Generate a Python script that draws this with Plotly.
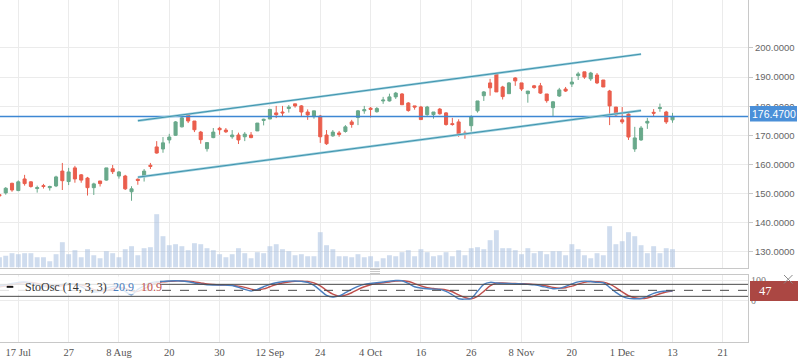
import plotly.graph_objects as go

# ---------------- data ----------------
idx = list(range(-3, 105))
opens = [149.6,150.2,153.5,151.0,155.0,154.0,151.7,152.7,152.0,152.6,157.7,154.1,158.8,156.4,155.3,152.0,154.3,154.6,158.5,156.0,
         156.0,150.6,154.9,155.8,159.7,166.0,165.3,168.4,170.0,172.9,177.0,174.9,171.1,165.4,169.2,172.4,171.8,169.5,170.1,169.5,
         170.1,171.5,175.1,175.6,177.7,178.0,179.2,180.8,180.1,178.0,176.4,176.6,170.1,169.8,170.8,171.3,174.6,176.1,178.4,179.3,
         178.1,181.8,181.8,183.2,184.2,181.1,180.1,179.7,177.1,177.1,179.0,177.7,174.0,174.6,170.8,173.3,178.4,183.6,188.0,191.1,
         186.6,184.3,189.7,188.0,184.3,187.0,187.0,184.2,179.5,183.5,185.9,187.6,190.5,191.8,189.4,190.7,189.0,185.2,179.7,175.3,
         177.3,165.3,168.4,174.2,177.9,179.2,178.0,175.3]
highs = [150.1,152.2,153.7,154.5,156.4,154.2,152.7,153.3,152.7,156.1,160.5,158.8,159.5,156.7,155.7,153.7,154.3,158.8,159.8,157.7,
         156.4,152.5,155.2,158.4,160.5,168.0,169.4,170.5,174.9,176.3,177.2,174.9,171.5,167.5,172.5,172.9,172.5,171.8,170.9,171.1,
         171.1,174.2,175.7,179.0,180.1,180.1,180.4,180.8,180.4,178.9,178.4,177.0,171.8,171.8,171.5,173.5,175.3,178.7,180.1,179.7,
         179.7,183.2,184.3,184.9,184.5,181.4,180.1,180.1,180.1,178.0,179.4,178.0,176.0,175.5,171.6,176.9,181.8,185.2,189.4,191.5,
         187.0,188.3,190.0,188.0,185.2,187.3,188.0,184.2,181.8,186.3,186.6,190.0,191.8,191.8,191.8,191.4,189.0,185.6,179.7,179.7,
         177.7,172.9,173.2,176.0,179.0,180.9,178.4,177.7]
lows = [148.0,149.6,150.6,150.8,152.7,152.0,150.3,151.7,151.0,152.2,151.2,152.9,153.7,153.7,149.3,149.5,152.4,154.4,156.7,155.1,
        151.2,147.5,153.0,154.1,158.4,163.7,164.0,167.2,169.8,172.7,174.2,171.1,167.1,164.4,169.0,170.2,170.8,168.8,167.0,168.0,
        169.0,171.5,173.4,175.6,175.9,176.5,177.8,179.5,176.6,175.3,175.7,167.4,166.7,169.5,169.5,170.9,172.6,173.5,177.4,176.1,
        177.8,180.8,181.6,182.5,180.5,178.1,178.8,175.4,176.7,175.7,177.1,173.3,173.3,169.5,168.8,171.3,177.8,181.8,183.6,184.9,
        182.3,184.3,187.0,185.2,181.2,186.0,184.2,181.2,176.6,183.2,184.9,186.6,189.0,189.4,188.7,187.6,186.6,173.5,176.6,173.9,
        168.4,164.3,168.1,172.2,176.5,178.1,173.9,174.3]
closes = [149.2,151.8,151.2,154.0,153.4,152.4,152.0,152.4,152.4,155.7,154.4,157.4,155.0,154.6,152.0,153.3,153.4,158.8,157.5,157.4,
          151.6,151.6,154.5,157.7,159.3,163.9,167.4,169.4,174.6,176.0,174.9,171.9,168.5,167.5,171.1,171.9,171.2,170.1,168.4,170.4,
          169.2,174.2,175.5,178.9,177.1,177.7,179.7,180.1,178.0,177.0,178.4,169.5,167.1,171.1,170.3,172.9,173.7,178.4,178.8,178.9,
          179.2,182.1,183.2,184.5,180.5,178.5,179.7,175.4,179.7,178.0,177.4,173.7,173.7,170.5,170.3,176.3,181.8,184.9,186.3,184.9,
          183.3,188.0,188.7,185.9,185.2,186.4,184.5,181.9,181.5,185.6,185.2,188.3,191.1,190.0,191.4,188.0,186.6,180.1,177.0,174.6,
          169.4,169.1,172.5,174.8,177.6,179.5,174.6,176.47]
volumes = [10.3,11.7,14.3,13.3,14.3,14.3,10.3,10.3,6.3,13.3,25.3,13.3,17.3,10.3,18.3,12.3,9.3,16.3,14.3,10.3,
           18.3,21.3,12.3,19.3,20.3,53.3,31.3,22.3,23.3,21.3,17.3,24.3,23.3,19.3,17.3,13.3,10.3,13.3,19.3,14.3,
           9.3,15.3,14.3,21.3,23.3,18.3,16.3,12.3,13.3,11.3,11.3,35.3,22.3,18.3,11.3,11.3,10.3,13.3,10.3,11.3,
           6.3,9.3,12.3,11.3,15.3,17.3,11.3,18.3,15.3,11.3,12.3,15.3,11.3,17.3,12.3,19.3,20.3,18.3,27.3,37.3,
           19.3,19.3,17.3,13.3,19.3,14.3,16.3,13.3,16.3,16.3,12.3,23.3,18.3,12.3,9.3,14.3,12.3,41.3,23.3,26.3,
           35.3,31.3,22.3,14.3,21.3,14.3,19.3,18.3]
sto_k = [72,78,85,90,92,86,76,70,66,74,80,84,80,68,52,42,45,60,70,66,
         45,28,55,72,88,93,95,97,98,97,93,87,81,78,77,77,76,74,65,55,
         47,55,68,80,88,93,96,97,95,90,75,50,25,17,22,38,55,70,80,85,
         88,92,96,99,98,85,68,62,58,56,55,45,28,8,6,10,45,80,90,87,
         85,84,83,82,80,78,72,65,58,60,70,82,92,96,94,90,88,65,40,20,
         10,8,9,20,35,43,47,47]
sto_d = [68,72,78,85,89,89,85,77,71,70,73,79,81,77,67,54,46,49,58,65,
         60,46,45,58,75,88,93,95,97,97,96,92,87,82,79,77,76,75,71,65,
         56,52,57,68,79,87,92,95,96,94,87,72,50,31,21,26,38,54,68,78,
         84,88,92,96,98,94,84,72,63,59,56,52,43,27,14,8,20,45,72,86,
         87,85,84,83,82,80,77,72,65,61,63,71,81,90,94,93,91,81,64,42,
         23,13,9,12,21,33,42,46]
tick_vals = [0, 8, 16, 24, 32, 40, 48, 56, 64, 72, 80, 88, 96, 104, 112]
tick_text = ["17 Jul", "27", "8 Aug", "20", "30", "12 Sep", "24", "4 Oct",
             "16", "26", "8 Nov", "20", "1 Dec", "13", "21"]
price_ticks = [130, 140, 150, 160, 170, 180, 190, 200]
last_price = 176.47
channel_upper = [(19.0, 175.0), (99.0, 197.9)]
channel_lower = [(19.0, 155.6), (99.0, 178.5)]
sto_label = "StoOsc (14, 3, 3)"
sto_k_text, sto_d_text, sto_last = "20.9", "10.9", "47"

# ---------------- geometry helpers ----------------
W_PLOT, H_PLOT = 748.0, 342.0
def px(x):
    return x / W_PLOT
def py(y):
    return (H_PLOT - y) / H_PLOT

GREEN = "#69a98b"
RED = "#ea5e4d"
BLUE_K = "#4a7ebf"
RED_D = "#c0504d"
SERIF = "Liberation Serif"
SANS = "Liberation Sans"

fig = go.Figure()

fig.add_trace(go.Bar(
    x=idx, y=volumes, xaxis="x", yaxis="y2", width=0.78,
    marker=dict(color="rgba(168,192,224,0.55)", line=dict(width=0)),
    hoverinfo="skip", showlegend=False))

fig.add_trace(go.Candlestick(
    x=idx, open=opens, high=highs, low=lows, close=closes,
    xaxis="x", yaxis="y",
    increasing=dict(line=dict(color=GREEN, width=1), fillcolor=GREEN),
    decreasing=dict(line=dict(color=RED, width=1), fillcolor=RED),
    whiskerwidth=0, hoverinfo="skip", showlegend=False))

fig.add_trace(go.Scatter(
    x=idx, y=sto_d, xaxis="x2", yaxis="y3", mode="lines",
    line=dict(color=RED_D, width=1.4, shape="spline"), hoverinfo="skip", showlegend=False))
fig.add_trace(go.Scatter(
    x=idx, y=sto_k, xaxis="x2", yaxis="y3", mode="lines",
    line=dict(color=BLUE_K, width=1.4, shape="spline"), hoverinfo="skip", showlegend=False))

xr = [-2.91, 116.0]
main_bottom = py(267.5)
sto_top = py(275)

shapes = []
shapes.append(dict(type="line", xref="x domain", yref="y", x0=0, x1=1, y0=last_price, y1=last_price,
                   line=dict(color="#3d87d3", width=1.5), layer="above"))
for (a, b) in (channel_upper, channel_lower):
    shapes.append(dict(type="line", xref="x", yref="y", x0=a[0], y0=a[1], x1=b[0], y1=b[1],
                       line=dict(color="#9ccfdd", width=2.4), layer="above"))
    shapes.append(dict(type="line", xref="x", yref="y", x0=a[0], y0=a[1], x1=b[0], y1=b[1],
                       line=dict(color="#3f93ad", width=1), layer="above"))
for lv, dash in ((80, "solid"), (20, "solid"), (50, "dash")):
    shapes.append(dict(type="line", xref="x2 domain", yref="y3", x0=0, x1=1, y0=lv, y1=lv,
                       line=dict(color="#4a4a4a", width=1, dash=dash), layer="above"))
shapes.append(dict(type="rect", xref="paper", yref="paper", x0=0, x1=px(160), y0=py(294.5), y1=py(276.5),
                   fillcolor="rgba(255,255,255,0.82)", line=dict(width=0), layer="above"))
shapes.append(dict(type="rect", xref="paper", yref="paper", x0=px(6.7), x1=px(13.3), y0=py(287.8), y1=py(285.9),
                   fillcolor="#111", line=dict(width=0), layer="above"))
for yy in (269.5, 271.5, 273.5):
    shapes.append(dict(type="line", xref="paper", yref="paper", x0=px(370), x1=px(380), y0=py(yy), y1=py(yy),
                       line=dict(color="#c9c9c9", width=1), layer="above"))
shapes.append(dict(type="rect", xref="paper", yref="paper", x0=px(750), x1=px(797), y0=py(121.5), y1=py(106),
                   fillcolor="#4a8fd8", line=dict(width=0), layer="above"))
shapes.append(dict(type="rect", xref="paper", yref="paper", x0=px(750), x1=px(798.5), y0=py(301), y1=py(281),
                   fillcolor="#ab4743", line=dict(width=0), layer="above"))
shapes.append(dict(type="line", xref="paper", yref="paper", x0=px(784), x1=px(792.5), y0=py(275), y1=py(283.5),
                   line=dict(color="#8a8a8a", width=1), layer="above"))
shapes.append(dict(type="line", xref="paper", yref="paper", x0=px(784), x1=px(792.5), y0=py(283.5), y1=py(275),
                   line=dict(color="#8a8a8a", width=1), layer="above"))

annotations = [
    dict(xref="paper", yref="paper", x=px(773.5), y=py(113.8), text="176.4700", showarrow=False,
         xanchor="center", yanchor="middle", font=dict(family=SANS, size=10.5, color="white")),
    dict(xref="paper", yref="paper", x=px(756.5), y=py(291), text=sto_last, showarrow=False,
         xanchor="left", yanchor="middle", font=dict(family=SERIF, size=12.5, color="white")),
    dict(xref="paper", yref="paper", x=px(22.5), y=py(287), text=sto_label, showarrow=False,
         xanchor="left", yanchor="middle", font=dict(family=SERIF, size=12, color="#333")),
    dict(xref="paper", yref="paper", x=px(111), y=py(287), text=sto_k_text, showarrow=False,
         xanchor="left", yanchor="middle", font=dict(family=SERIF, size=12, color=BLUE_K)),
    dict(xref="paper", yref="paper", x=px(138.5), y=py(287), text=sto_d_text, showarrow=False,
         xanchor="left", yanchor="middle", font=dict(family=SERIF, size=12, color=RED_D)),
]

grid = "#ebebeb"
fig.update_layout(
    template="none",
    width=798, height=363,
    margin=dict(l=0, r=50, t=0, b=21, pad=0),
    paper_bgcolor="white", plot_bgcolor="white",
    showlegend=False, hovermode=False,
    xaxis=dict(domain=[0, 1], anchor="y", range=xr, tickvals=tick_vals, showticklabels=False,
               showgrid=True, gridcolor=grid, gridwidth=1, zeroline=False, showline=True, linecolor="#c8c8c8",
               rangeslider=dict(visible=False), ticks="", automargin=False),
    yaxis=dict(domain=[main_bottom, 1], anchor="x", side="right", range=[124.57, 216.49],
               tickvals=price_ticks, tickformat=".4f", showgrid=True, gridcolor=grid, gridwidth=1, zeroline=False,
               showline=True, linecolor="#c8c8c8", ticks="outside", ticklen=4, tickcolor="#c8c8c8",
               tickfont=dict(family=SANS, size=9.5, color="#666"), automargin=False),
    yaxis2=dict(overlaying="y", anchor="x", range=[0, 267.5], visible=False, automargin=False),
    xaxis2=dict(domain=[0, 1], anchor="y3", range=xr, tickvals=tick_vals, ticktext=tick_text,
                showgrid=True, gridcolor=grid, gridwidth=1, zeroline=False, showline=True, mirror=True,
                linecolor="#c8c8c8", ticks="", tickfont=dict(family=SERIF, size=10.5, color="#555"),
                automargin=False),
    yaxis3=dict(domain=[0, sto_top], anchor="x2", side="right", range=[-208.3, 126.7],
                tickvals=[0, 100], showgrid=True, gridcolor=grid, gridwidth=1, zeroline=False, showline=True,
                mirror=True, linecolor="#c8c8c8", ticks="", ticklen=0,
                tickfont=dict(family=SERIF, size=10, color="#777"), automargin=False),
    shapes=shapes, annotations=annotations,
)

fig.write_html("out.html", config={"displayModeBar": False},
               post_script="document.body.style.margin='0';document.body.style.padding='0';")
